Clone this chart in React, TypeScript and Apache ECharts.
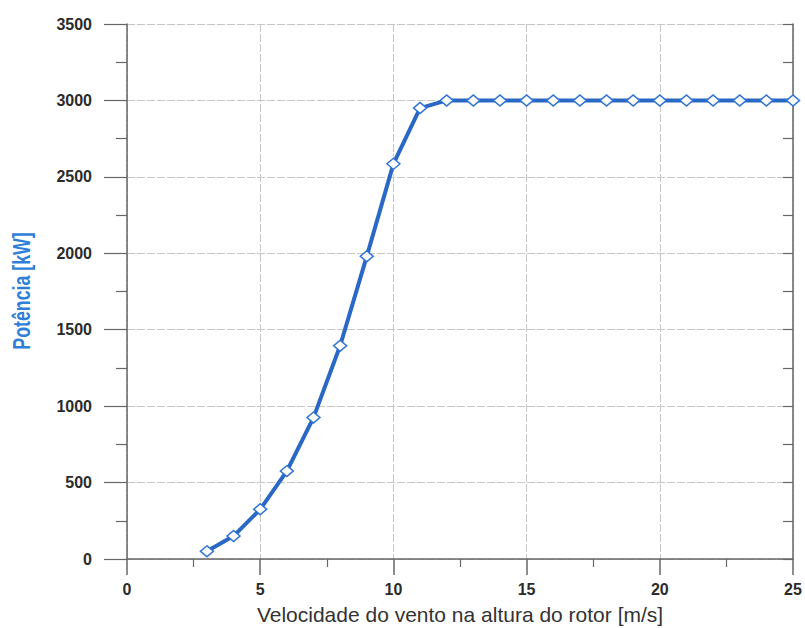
import React, { useEffect, useRef } from "react";
import * as echarts from "echarts";

const windSpeed = [3, 4, 5, 6, 7, 8, 9, 10, 11, 12, 13, 14, 15, 16, 17, 18, 19, 20, 21, 22, 23, 24, 25];
const power = [50, 150, 325, 575, 925, 1395, 1980, 2585, 2950, 3000, 3000, 3000, 3000, 3000, 3000, 3000, 3000, 3000, 3000, 3000, 3000, 3000, 3000];
const xTitle = "Velocidade do vento na altura do rotor [m/s]";
const yTitle = "Potência [kW]";

export default function App() {
  const ref = useRef<HTMLDivElement>(null);
  useEffect(() => {
    if (!ref.current) return;
    const chart = echarts.init(ref.current, undefined, { renderer: "svg" });
    const gridColor = "#c6c6c6";
    const axisColor = "#666666";
    const labelFont = "Liberation Sans, Arial, sans-serif";
    chart.setOption({
      animation: false,
      backgroundColor: "#ffffff",
      grid: { left: 127, right: 12, top: 24, bottom: 69, containLabel: false, outerBoundsMode: "none" },
      graphic: [
        {
          type: "text",
          x: 21,
          y: 291,
          rotation: Math.PI / 2,
          scaleX: 0.74,
          style: {
            text: yTitle,
            fontSize: 24,
            fontWeight: "bold",
            fontFamily: "Liberation Sans",
            fill: "#2f7fd9",
            align: "center",
            verticalAlign: "middle",
          },
        },
      ],
      xAxis: {
        type: "value",
        min: 0,
        max: 25,
        interval: 5,
        name: xTitle,
        nameLocation: "middle",
        nameGap: 45,
        nameTextStyle: { fontSize: 21, color: "#333", fontFamily: labelFont },
        axisLine: { show: true, lineStyle: { color: axisColor, width: 1.5 } },
        axisTick: { show: true, length: 16, lineStyle: { color: axisColor, width: 1.5 } },
        minorTick: { show: true, splitNumber: 2, length: 8, lineStyle: { color: axisColor, width: 1.2 } },
        axisLabel: {
          margin: 22,
          fontSize: 16,
          fontWeight: "bold",
          color: "#2b2b2b",
          fontFamily: labelFont,
          formatter: (v: number) => String(v),
        },
        splitLine: { show: true, lineStyle: { color: gridColor, width: 1, type: [8, 2] } },
      },
      yAxis: [
        {
          type: "value",
          min: 0,
          max: 3500,
          interval: 500,
          axisLine: { show: true, lineStyle: { color: axisColor, width: 1.5 } },
          axisTick: { show: true, length: 23, lineStyle: { color: axisColor, width: 1.2 } },
          minorTick: { show: true, splitNumber: 2, length: 11, lineStyle: { color: axisColor, width: 1.2 } },
          axisLabel: {
            margin: 35,
            fontSize: 16,
            fontWeight: "bold",
            color: "#2b2b2b",
            fontFamily: labelFont,
            formatter: (v: number) => String(v),
          },
          splitLine: { show: true, lineStyle: { color: gridColor, width: 1, type: [8, 2] } },
        },
        {
          type: "value",
          position: "right",
          min: 0,
          max: 3500,
          interval: 500,
          axisLine: { show: true, lineStyle: { color: axisColor, width: 1.5 } },
          axisTick: { show: true, inside: true, length: 10, lineStyle: { color: axisColor, width: 1.2 } },
          minorTick: { show: true, splitNumber: 2, length: 10, lineStyle: { color: axisColor, width: 1.2 } },
          axisLabel: { show: false },
          splitLine: { show: false },
        },
      ],
      series: [
        {
          type: "line",
          data: windSpeed.map((x, i) => [x, power[i]]),
          clip: false,
          symbol: "diamond",
          symbolSize: [13, 11],
          showSymbol: true,
          lineStyle: { color: "#2a68c6", width: 4 },
          itemStyle: { color: "#ffffff", borderColor: "#2f73d6", borderWidth: 1.5 },
          z: 5,
        },
      ],
    });
    return () => chart.dispose();
  }, []);
  return <div ref={ref} style={{ width: 805, height: 628, position: "absolute", left: 0, top: 0 }} />;
}
